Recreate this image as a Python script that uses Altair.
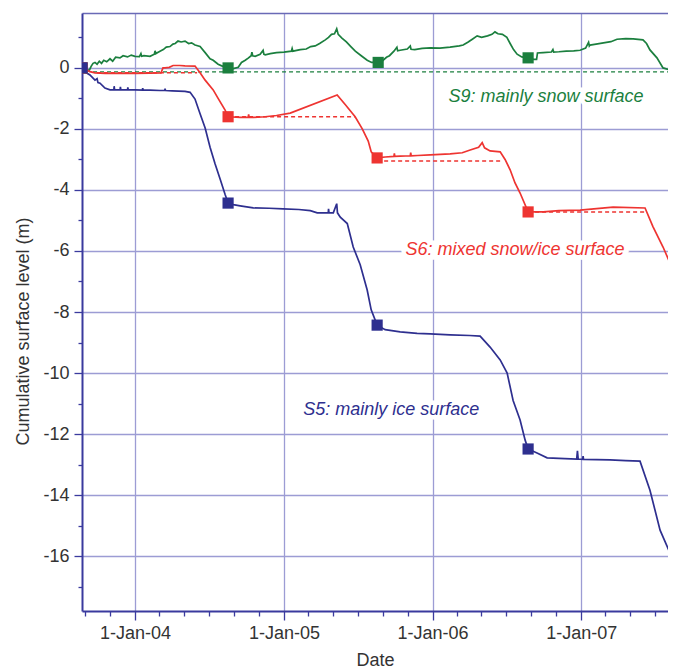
import altair as alt
import pandas as pd
import numpy as np

# ---------------- data: (decimal year, cumulative surface level in m) ----------------
s9 = [(2003.644, 0.00), (2003.670, -0.02), (2003.691, -0.10), (2003.705, 0.05), (2003.718, 0.15),
      (2003.731, 0.18), (2003.745, 0.12), (2003.760, 0.22), (2003.775, 0.15), (2003.790, 0.25),
      (2003.810, 0.20), (2003.832, 0.30), (2003.850, 0.22), (2003.870, 0.35), (2003.899, 0.33),
      (2003.920, 0.40), (2003.950, 0.36), (2003.975, 0.42), (2004.000, 0.38), (2004.030, 0.37),
      (2004.040, 0.47), (2004.045, 0.38), (2004.060, 0.40), (2004.101, 0.38), (2004.130, 0.45),
      (2004.135, 0.56), (2004.140, 0.47), (2004.150, 0.50), (2004.168, 0.55), (2004.190, 0.60),
      (2004.210, 0.68), (2004.235, 0.70), (2004.255, 0.78), (2004.270, 0.80), (2004.289, 0.88),
      (2004.310, 0.85), (2004.336, 0.88), (2004.360, 0.80), (2004.380, 0.82), (2004.403, 0.75),
      (2004.437, 0.70), (2004.471, 0.50), (2004.504, 0.30), (2004.525, 0.25), (2004.558, 0.12),
      (2004.590, 0.05), (2004.625, 0.00), (2004.660, -0.02), (2004.693, 0.02), (2004.715, 0.18),
      (2004.740, 0.25), (2004.760, 0.32), (2004.780, 0.40), (2004.785, 0.52), (2004.790, 0.40),
      (2004.807, 0.38), (2004.840, 0.45), (2004.860, 0.58), (2004.865, 0.45), (2004.874, 0.43),
      (2004.908, 0.47), (2004.950, 0.50), (2005.000, 0.52), (2005.050, 0.55), (2005.055, 0.64),
      (2005.060, 0.55), (2005.110, 0.60), (2005.150, 0.62), (2005.180, 0.70), (2005.210, 0.72),
      (2005.240, 0.80), (2005.278, 0.92), (2005.300, 1.00), (2005.320, 1.10), (2005.340, 1.12),
      (2005.355, 1.28), (2005.365, 1.10), (2005.390, 0.98), (2005.420, 0.85), (2005.450, 0.70),
      (2005.480, 0.55), (2005.520, 0.40), (2005.560, 0.25), (2005.590, 0.18), (2005.630, 0.18),
      (2005.660, 0.22), (2005.690, 0.35), (2005.710, 0.40), (2005.740, 0.55), (2005.760, 0.68),
      (2005.765, 0.56), (2005.782, 0.58), (2005.830, 0.62), (2005.850, 0.72), (2005.855, 0.61),
      (2005.880, 0.60), (2005.930, 0.64), (2005.984, 0.66), (2006.050, 0.65), (2006.118, 0.68),
      (2006.180, 0.72), (2006.206, 0.75), (2006.240, 0.85), (2006.270, 0.95), (2006.300, 1.05),
      (2006.330, 1.00), (2006.370, 1.05), (2006.400, 1.10), (2006.420, 1.18), (2006.440, 1.12),
      (2006.470, 1.10), (2006.500, 1.00), (2006.522, 0.80), (2006.545, 0.60), (2006.569, 0.45),
      (2006.600, 0.36), (2006.643, 0.33), (2006.680, 0.28), (2006.700, 0.28), (2006.706, 0.49),
      (2006.744, 0.50), (2006.800, 0.52), (2006.810, 0.60), (2006.815, 0.52), (2006.850, 0.53),
      (2006.900, 0.55), (2006.950, 0.56), (2006.993, 0.58), (2007.030, 0.65), (2007.050, 0.84),
      (2007.055, 0.72), (2007.060, 0.75), (2007.100, 0.78), (2007.150, 0.82), (2007.200, 0.86),
      (2007.241, 0.94), (2007.300, 0.96), (2007.350, 0.95), (2007.416, 0.92), (2007.440, 0.80),
      (2007.463, 0.59), (2007.510, 0.33), (2007.551, 0.00), (2007.598, -0.07), (2007.638, -0.33),
      (2007.665, -0.45)]

s6 = [(2003.644, 0.00), (2003.670, -0.05), (2003.697, -0.12), (2003.731, -0.16), (2003.800, -0.18),
      (2003.900, -0.18), (2004.000, -0.18), (2004.100, -0.17), (2004.175, -0.16), (2004.188, 0.00),
      (2004.202, 0.00), (2004.230, 0.02), (2004.256, 0.08), (2004.300, 0.08), (2004.336, 0.07),
      (2004.403, 0.06), (2004.437, -0.16), (2004.471, -0.40), (2004.525, -0.72), (2004.558, -1.00),
      (2004.605, -1.38), (2004.625, -1.60), (2004.706, -1.62), (2004.760, -1.62), (2004.763, -1.52),
      (2004.766, -1.62), (2004.800, -1.62), (2004.874, -1.60), (2004.950, -1.56), (2005.042, -1.48),
      (2005.358, -0.89), (2005.412, -1.20), (2005.479, -1.60), (2005.527, -2.00), (2005.567, -2.40),
      (2005.587, -2.75), (2005.627, -2.95), (2005.681, -2.92), (2005.740, -2.90), (2005.743, -2.80),
      (2005.746, -2.90), (2005.782, -2.89), (2005.850, -2.88), (2005.853, -2.78), (2005.856, -2.88),
      (2005.900, -2.87), (2005.984, -2.85), (2006.118, -2.82), (2006.200, -2.78), (2006.253, -2.69),
      (2006.310, -2.60), (2006.334, -2.45), (2006.350, -2.62), (2006.387, -2.72), (2006.455, -2.75),
      (2006.488, -3.00), (2006.522, -3.34), (2006.555, -3.77), (2006.589, -4.10), (2006.609, -4.33),
      (2006.643, -4.72), (2006.744, -4.72), (2006.850, -4.68), (2006.993, -4.66), (2007.215, -4.56),
      (2007.430, -4.59), (2007.483, -5.20), (2007.551, -5.87), (2007.618, -6.62), (2007.665, -7.05)]

s5 = [(2003.644, 0.00), (2003.670, -0.15), (2003.697, -0.23), (2003.731, -0.40), (2003.745, -0.35),
      (2003.751, -0.48), (2003.765, -0.50), (2003.798, -0.66), (2003.832, -0.72), (2003.858, -0.72),
      (2003.860, -0.60), (2003.863, -0.72), (2003.900, -0.72), (2003.902, -0.62), (2003.905, -0.72),
      (2003.950, -0.72), (2003.952, -0.64), (2003.955, -0.72), (2004.000, -0.72), (2004.050, -0.73),
      (2004.052, -0.66), (2004.055, -0.73), (2004.101, -0.73), (2004.168, -0.74), (2004.200, -0.74),
      (2004.202, -0.68), (2004.205, -0.74), (2004.250, -0.75), (2004.336, -0.77), (2004.370, -0.80),
      (2004.403, -1.02), (2004.437, -1.50), (2004.471, -1.97), (2004.504, -2.60), (2004.538, -3.15),
      (2004.572, -3.65), (2004.605, -4.15), (2004.625, -4.43), (2004.660, -4.48), (2004.706, -4.52),
      (2004.794, -4.59), (2004.900, -4.60), (2004.995, -4.62), (2005.100, -4.64), (2005.177, -4.68),
      (2005.224, -4.75), (2005.298, -4.75), (2005.300, -4.62), (2005.303, -4.75), (2005.332, -4.75),
      (2005.355, -4.45), (2005.360, -4.75), (2005.379, -4.89), (2005.426, -5.10), (2005.466, -5.87),
      (2005.513, -6.45), (2005.560, -7.28), (2005.587, -7.93), (2005.627, -8.43), (2005.681, -8.58),
      (2005.782, -8.65), (2005.896, -8.70), (2005.984, -8.72), (2006.118, -8.75), (2006.250, -8.77),
      (2006.320, -8.79), (2006.387, -9.15), (2006.455, -9.57), (2006.502, -10.00), (2006.542, -10.90),
      (2006.589, -11.54), (2006.623, -12.20), (2006.643, -12.49), (2006.703, -12.62), (2006.771, -12.78),
      (2006.850, -12.80), (2006.970, -12.82), (2006.975, -12.55), (2006.980, -12.82), (2007.010, -12.83),
      (2007.013, -12.72), (2007.016, -12.83), (2007.194, -12.85), (2007.300, -12.87), (2007.396, -12.89),
      (2007.463, -13.84), (2007.531, -15.15), (2007.598, -15.90), (2007.638, -16.62), (2007.665, -17.15)]

# annual survey markers
mk_series = ["S9", "S9", "S9", "S9",
             "S6", "S6", "S6", "S6", "S6",
             "S5", "S5", "S5", "S5", "S5"]
mk_t = [2003.644, 2004.625, 2005.634, 2006.643,
        2003.644, 2004.625, 2005.627, 2006.643, 2007.665,
        2003.644, 2004.625, 2005.627, 2006.643, 2007.665]
mk_v = [0.00, 0.00, 0.18, 0.33,
        0.00, -1.60, -2.95, -4.72, -7.05,
        0.00, -4.43, -8.43, -12.49, -17.15]

# dashed reference levels
dash_series = ["S9", "S6", "S6", "S6", "S6"]
dash_t0 = [2003.718, 2003.744, 2004.625, 2005.627, 2006.643]
dash_t1 = [2007.800, 2004.417, 2005.479, 2006.475, 2007.430]
dash_v = [-0.13, -0.16, -1.60, -3.05, -4.72]

# annotations
lab_series = ["S9", "S6", "S5"]
lab_text = ["S9: mainly snow surface", "S6: mixed snow/ice surface", "S5: mainly ice surface"]
lab_t = [2006.764, 2006.555, 2005.722]
lab_v = [-0.95, -5.97, -11.21]

x_start, x_end = 2003.6436, 2007.5844
y_min, y_max = -17.8, 1.8
major_years = [2004, 2005, 2006, 2007]
y_major = [0, -2, -4, -6, -8, -10, -12, -14, -16]
y_minor = [1, -1, -3, -5, -7, -9, -11, -13, -15, -17]


def to_ms(t):
    y = int(np.floor(t))
    a = pd.Timestamp(year=y, month=1, day=1, tz="UTC")
    b = pd.Timestamp(year=y + 1, month=1, day=1, tz="UTC")
    return int((a + (b - a) * (t - y)).value // 10**6)


def ymd_ms(y, m, d=1):
    return int(pd.Timestamp(year=y, month=m, day=d, tz="UTC").value // 10**6)


lines = pd.concat([
    pd.DataFrame({"series": name, "t": [to_ms(p[0]) for p in pts], "v": [p[1] for p in pts],
                  "order": range(len(pts))})
    for name, pts in [("S9", s9), ("S6", s6), ("S5", s5)]
])
markers = pd.DataFrame({"series": mk_series, "t": [to_ms(x) for x in mk_t], "v": mk_v})
dashes = pd.DataFrame({"series": dash_series, "t": [to_ms(x) for x in dash_t0],
                       "t2": [to_ms(x) for x in dash_t1], "v": dash_v})
labels = pd.DataFrame({"series": lab_series, "text": lab_text,
                       "t": [to_ms(x) for x in lab_t], "v": lab_v})

FONT = "Liberation Sans"
AXC = "#3a3a9e"
GRID = "#9c9cd4"
color = alt.Color("series:N", legend=None,
                  scale=alt.Scale(domain=["S9", "S6", "S5"],
                                  range=["#1b7f3e", "#ee3431", "#2e2f8f"]))

xscale = alt.Scale(type="utc", domain=[to_ms(x_start), to_ms(x_end)], nice=False)
yscale = alt.Scale(domain=[y_min, y_max], nice=False, zero=False)

major_x = alt.Axis(orient="bottom", values=[ymd_ms(y, 1) for y in major_years],
                   format="%-d-%b-%y", grid=True, gridColor=GRID, gridWidth=1.3,
                   tickSize=9, tickColor=AXC, tickWidth=1.3, domainColor=AXC, domainWidth=2,
                   labelFont=FONT, labelFontSize=18, labelColor="#333333", labelPadding=4,
                   title="Date", titleFont=FONT, titleFontSize=18, titleFontWeight="normal",
                   titleColor="#333333", titlePadding=9)
minor_months = [ymd_ms(y, m) for y in range(2003, 2008) for m in (3, 5, 7, 9, 11)
                if to_ms(x_start) <= ymd_ms(y, m) <= to_ms(x_end)]
minor_x = alt.Axis(orient="bottom", values=minor_months, labels=False, grid=False, domain=False,
                   tickSize=5, tickColor=AXC, tickWidth=1.3, title=None)
top_x = alt.Axis(orient="top", labels=False, ticks=False, grid=False, domain=True,
                 domainColor="#6a6ab6", domainWidth=1.5, title=None)
major_y = alt.Axis(orient="left", values=y_major, grid=True, gridColor=GRID, gridWidth=1.3,
                   labelExpr="toString(datum.value)",
                   tickSize=8, tickColor=AXC, tickWidth=1.3, domainColor=AXC, domainWidth=2,
                   labelFont=FONT, labelFontSize=18, labelColor="#333333", labelPadding=5,
                   title="Cumulative surface level (m)", titleFont=FONT, titleFontSize=18,
                   titleFontWeight="normal", titleColor="#333333", titlePadding=10, titleY=318)
minor_y = alt.Axis(orient="left", values=y_minor, labels=False, grid=False, domain=False,
                   tickSize=4, tickColor=AXC, tickWidth=1.3, title=None)

line_layer = alt.Chart(lines).mark_line(strokeWidth=1.7, clip=True).encode(
    x=alt.X("t:T", scale=xscale, axis=major_x),
    y=alt.Y("v:Q", scale=yscale, axis=major_y),
    color=color, detail="series:N", order="order:Q")

dash_layer = alt.Chart(dashes).mark_rule(strokeDash=[4, 3], strokeWidth=1.4, clip=True).encode(
    x=alt.X("t:T", scale=xscale, axis=minor_x), x2="t2:T",
    y=alt.Y("v:Q", scale=yscale, axis=minor_y), color=color)

marker_layer = alt.Chart(markers).mark_square(size=125, opacity=1, clip=True).encode(
    x=alt.X("t:T", axis=top_x), y=alt.Y("v:Q", axis=None), color=color)

halo = alt.Chart(labels).mark_text(font=FONT, fontSize=18, fontStyle="italic", stroke="white",
                                   strokeWidth=9, fill="white", baseline="middle", align="center").encode(
    x=alt.X("t:T", axis=None), y=alt.Y("v:Q", axis=None), text="text:N")
text = alt.Chart(labels).mark_text(font=FONT, fontSize=18, fontStyle="italic",
                                   baseline="middle", align="center").encode(
    x=alt.X("t:T", axis=None), y=alt.Y("v:Q", axis=None), text="text:N", color=color)

chart = alt.layer(dash_layer, line_layer, marker_layer, halo, text).resolve_axis(
    x="independent", y="independent"
).properties(width=586, height=598,
             autosize=alt.AutoSizeParams(type="none"),
             padding={"left": 74, "top": 5, "right": 0, "bottom": 57}
).configure_view(strokeWidth=0)

chart.save("out.html", embed_options={"renderer": "svg", "actions": False})
